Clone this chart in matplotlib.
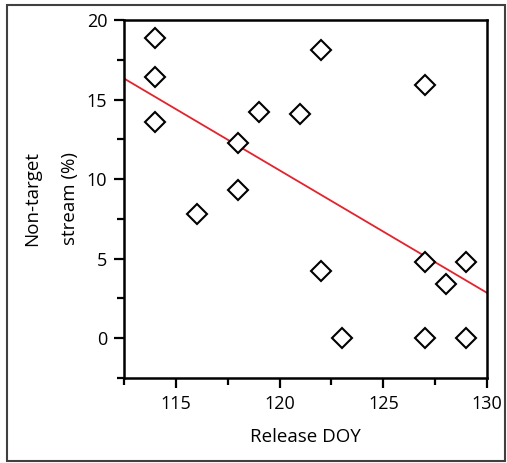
import numpy as np
import matplotlib
matplotlib.use("Agg")
import matplotlib.pyplot as plt
from matplotlib.patches import Rectangle
from matplotlib.ticker import MultipleLocator

plt.rcParams['font.family'] = ['Open Sans', 'DejaVu Sans']

# release day-of-year vs non-target stream (%)
release_doy = [114, 114, 114, 116, 118, 118, 119, 121, 122, 122, 123,
               127, 127, 127, 128, 129, 129]
non_target = [18.9, 16.4, 13.6, 7.8, 12.3, 9.3, 14.2, 14.1, 18.1, 4.2, 0.0,
              15.9, 4.8, 0.0, 3.4, 4.8, 0.0]

x = np.array(release_doy, dtype=float)
y = np.array(non_target)
slope, intercept = np.polyfit(x, y, 1)

fig = plt.figure(figsize=(5.07, 4.63), dpi=100)
ax = fig.add_axes([0.2446, 0.1836, 0.7160, 0.7732])

xx = np.array([112.5, 130])
ax.plot(xx, intercept + slope * xx, color='#e8202a', lw=1.3, zorder=2)
ax.plot(x, y, linestyle='none', marker='D', ms=10.5, mfc='white',
        mec='black', mew=1.5, zorder=3, clip_on=False)

ax.set_xlim(112.5, 130)
ax.set_ylim(-2.5, 20)
ax.xaxis.set_major_locator(MultipleLocator(5))
ax.xaxis.set_minor_locator(MultipleLocator(2.5))
ax.yaxis.set_major_locator(MultipleLocator(5))
ax.yaxis.set_minor_locator(MultipleLocator(2.5))
ax.tick_params(which='major', direction='out', length=7, width=1.6,
               labelsize=13, pad=5)
ax.tick_params(which='minor', direction='out', length=5, width=1.6)
for s in ax.spines.values():
    s.set_linewidth(1.8)

ax.set_xlabel('Release DOY', fontsize=13.5, labelpad=11)
ax.set_ylabel('Non-target\nstream (%)', fontsize=13.5, labelpad=6,
              linespacing=2.35)

# outer frame around the figure
fig.patches.append(Rectangle((0.014, 0.004), 0.983, 0.986, transform=fig.transFigure,
                             fill=False, edgecolor='#404040', lw=1.5))

fig.savefig('out.png', dpi=100)
